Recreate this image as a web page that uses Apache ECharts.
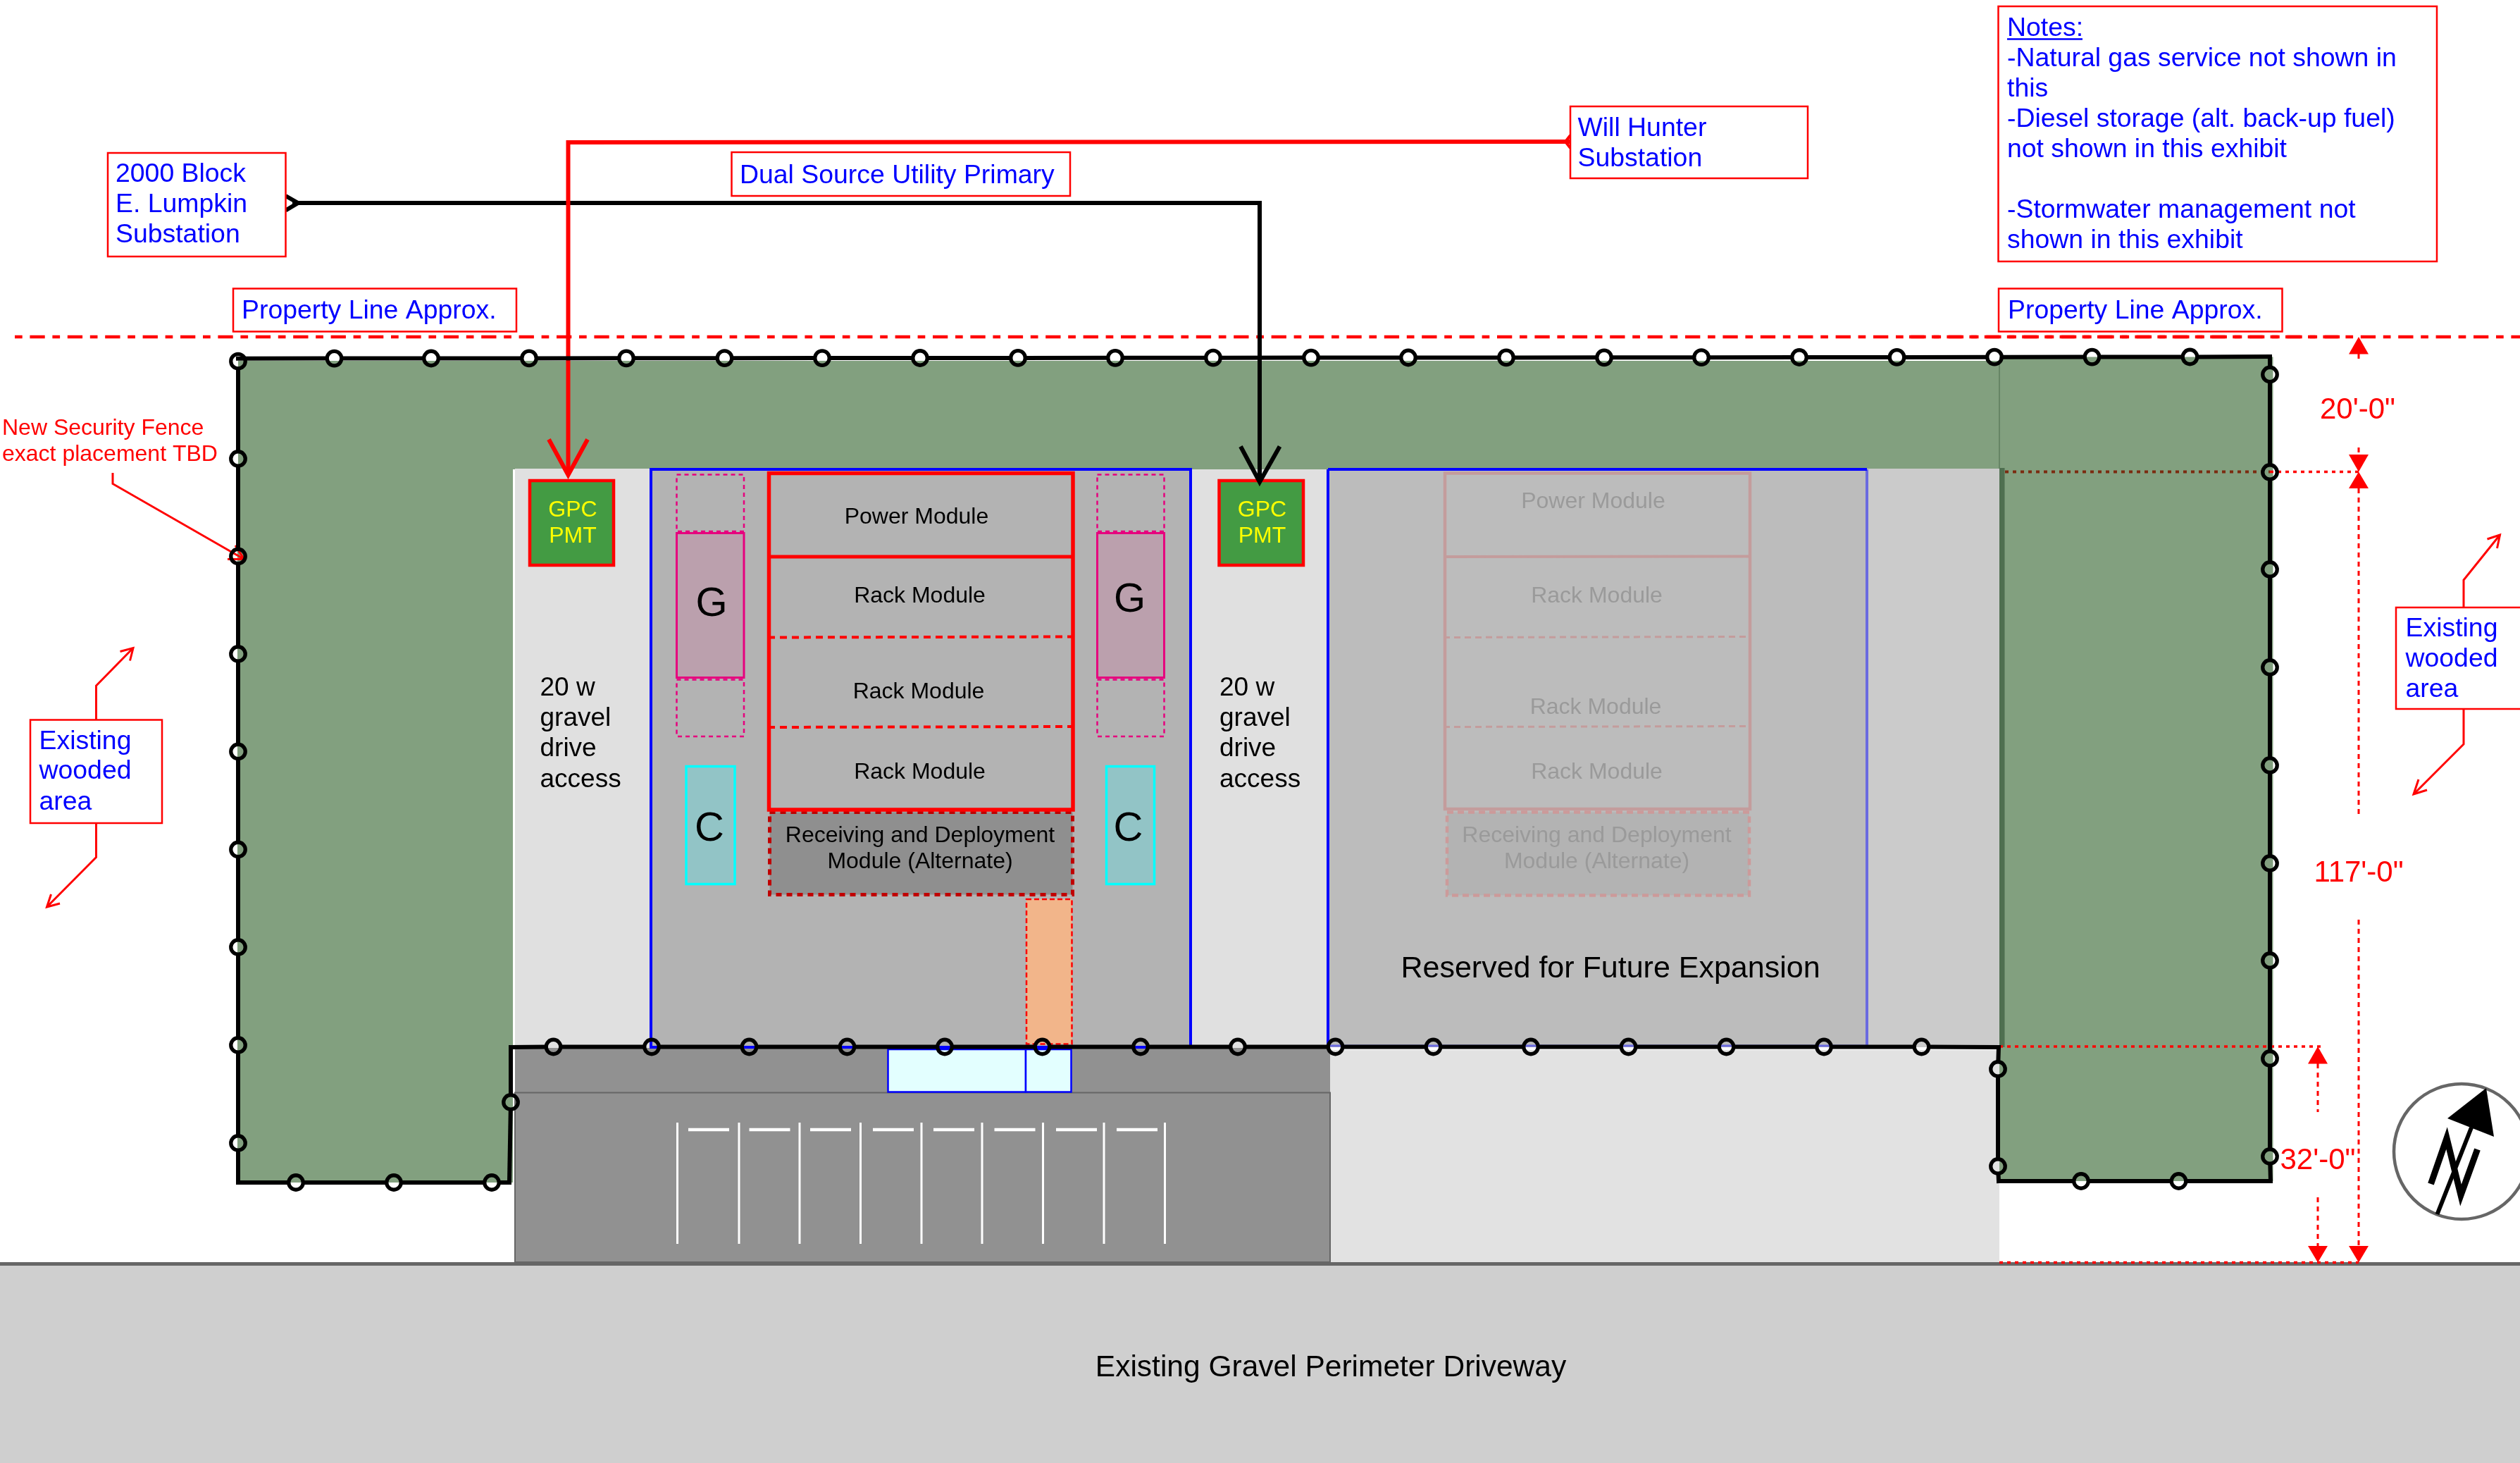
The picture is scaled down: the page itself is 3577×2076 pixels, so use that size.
<!DOCTYPE html>
<html>
<head>
<meta charset="utf-8">
<style>html,body{margin:0;padding:0;background:#fff}#c{width:3577px;height:2076px}</style>
<script src="https://cdn.jsdelivr.net/npm/echarts@6/dist/echarts.min.js"></script>
</head>
<body>
<div id="c"></div>
<script>
// ---- plan extent
const planWidth = 3577, planHeight = 2076;

// ---- areas [x0, y0, x1, y1]
const woodedAreas = [[338,512,2838,666],[337,660,728,1678],[2838,506.5,3226.5,1676]];
const woodedEdge = [[2838,664,2845.5,1486]];
const drivePads = [[731,665,925,1487],[1690,666,1885,1487]];
const moduleYard = [[924,666,1690,1486]];
const futureYard = [[1885,666,2650,1486]];
const sideYard = [[2650,665,2838,1486]];
const pavedApron = [[731,1487,1888,1791]];
const parkingLot = [[731,1550.5,1888,1791]];
const gravelApron = [[1888,1490,2838,1791]];
const perimeterDrive = [[0,1796,3577,2076]];
const perimeterEdge = [[0,1791,3577,1796]];
const meters = [[752,682,871,802],[1730.5,682,1850,802]];
const generators = [[960.5,756.5,1056,961.5],[1557.5,756.5,1652.5,961.5]];
const generatorSlots = [[960.5,673.5,1056,754],[960.5,964.5,1056,1045],[1557.5,673.5,1652.5,754],[1557.5,964.5,1652.5,1045]];
const chillers = [[974,1087.5,1043,1254.5],[1570.5,1087.5,1638.5,1254.5]];
const moduleBlock = [[1091.5,671.5,1523,1149]];
const receivingModule = [[1092.5,1152.5,1522.5,1269.5]];
const entryPath = [[1457,1276,1521.5,1481.5]];
const entryBoxes = [[1260.5,1489,1456,1549.5],[1456,1489,1520.5,1549.5]];
const futureModuleBlock = [[2051,671.5,2484,1148]];
const futureReceiving = [[2054,1152.5,2483,1270.5]];

// ---- callout boxes [x0, y0, x1, y1]
const calloutBoxes = [
  [153,217,405.5,364],[1038.5,216,1519,278],[2229,151,2566,253],
  [331,409.5,733,470.5],[2837,409.5,3239.5,470.5],[2836.5,9,3459,371],
  [43,1021.5,230,1168],[3401,862,3590,1006]
];

// ---- parking
const stallLinesX = [961.5,1049,1135,1221.5,1308,1394,1480.5,1567,1653.5];
const stallLinesY = [1593,1765];
const stallTicks = [[977,1035],[1063.5,1121.5],[1150,1208],[1239,1297],[1325,1383],[1411.5,1469.5],[1499,1557],[1585,1643]];
const stallTickY = 1603;

// ---- module divider lines
const moduleSolidDivider = [[1091.5,790],[1523,790]];
const moduleDashedDividers = [[[1090,904.5],[1523,903.5]],[[1090,1032],[1523,1031]]];
const futureSolidDivider = [[2051,790],[2484,789.5]];
const futureDashedDividers = [[[2049,904.5],[2484,903.5]],[[2049,1031.5],[2484,1030.5]]];

// ---- yard outline lines
const futureYardTop = [[1885,666],[2650,666]];
const futureYardLeft = [[1885,666],[1885,1486]];
const futureYardRight = [[2650,666],[2650,1486]];
const futureYardBottom = [[1885,1484],[2650,1484]];
const woodedSeam = [[2838,511],[2838,665]];

// ---- utility feeders
const feederRed = [[2229,201],[806.5,202],[806.5,670]];
const feederRedHead = [[779,623.5],[806.5,674],[834,623.5]];
const feederRedStub = [[2229,192],[2222,201],[2229,210]];
const feederBlack = [[415,288],[1788,288],[1788,680]];
const feederBlackHead = [[1761,633.5],[1788,684],[1816.5,633.5]];
const feederBlackStub = [[405.5,278],[423,288],[405.5,298.5]];

// ---- property lines
const propertyLineA = [[21,478],[3330,478]];
const propertyLineB = [[2710,478],[3577,478]];

// ---- leaders
const leaders = [
  [[160,671],[160,686.5],[346.5,793.5]],
  [[334,774],[346.5,793.5],[323,793.5]],
  [[136.5,1021.5],[136.5,973],[189,919.5]],
  [[170.5,924.5],[189,919.5],[184.5,937.5]],
  [[136.5,1168],[136.5,1216.5],[66.5,1287]],
  [[85,1282],[66.5,1287],[72.5,1269]],
  [[3497,862],[3497,823],[3548.5,759]],
  [[3530.5,765],[3548.5,759],[3544.5,778]],
  [[3497,1006],[3497,1056],[3426,1127]],
  [[3445,1121],[3426,1127],[3433,1106]]
];

// ---- dimensions
const dimensionDashed = [
  [[3348,502],[3348,514]],[[3348,635],[3348,646]],[[3348,693],[3348,1156]],[[3348,1305],[3348,1770]],
  [[3290,1509],[3290,1578]],[[3290,1699],[3290,1770]]
];
const dimensionGuides = [[[3222,669.5],[3348,669.5]],[[2838,1485],[3296,1485]],[[2838,1791.5],[3348,1791.5]]];
const dimensionGuideOverWoods = [[2846,669.5],[3222,669.5]];
const dimensionHeads = [
  [[3348,478],[3334,502.5],[3362,502.5]],
  [[3348,669.5],[3334,645],[3362,645]],
  [[3348,669.5],[3334,693],[3362,693]],
  [[3348,1791.5],[3334,1768],[3362,1768]],
  [[3290,1485],[3276,1509.5],[3304,1509.5]],
  [[3290,1791.5],[3276,1768],[3304,1768]]
];

// ---- north arrow
const northCircle = [3494,1634,96];
const northHead = [[3529,1544],[3474,1587],[3540,1613]];
const northShaft = [[3508,1600],[3459.5,1723]];
const northLetter = [[3450.5,1680],[3473,1615],[3493,1696],[3516.5,1631]];

// ---- fence
const fenceTopPosts = [
  [474.5,508.6],[612,508.5],[751,508.4],[889,508.3],[1028.5,508.2],[1167,508.1],[1306,508],[1445,507.9],[1583,507.8],
  [1722,507.7],[1861,507.6],[1999,507.5],[2138,507.4],[2277,507.3],[2415,507.2],[2554,507],[2692.5,506.9],[2831,506.7],[2969.5,506.6],[3108.5,506.5]
];
const fenceStartPost = [338,512.7];
const fenceRightPosts = [[3222,531.5],[3222,670],[3222,808],[3222,947],[3222,1086],[3222,1225],[3222,1363],[3222,1502],[3222,1641]];
const fenceBottomRightPosts = [[3092.5,1676],[2954,1676]];
const fenceInnerRightPosts = [[2836,1655],[2836,1517]];
const fenceBottomPosts = [
  [2727.5,1485.5],[2589,1485.5],[2450.5,1485.5],[2311.5,1485.5],[2173,1485.5],[2034.5,1485.5],[1895.5,1485.5],
  [1757,1485.5],[1619,1485.5],[1479.5,1485.5],[1341,1485.5],[1202.5,1485.5],[1063.5,1485.5],[925,1485.5],[785.5,1485.5]
];
const fenceInnerLeftPosts = [[725,1564]];
const fenceBottomLeftPosts = [[698,1678],[559,1678],[420,1678]];
const fenceLeftPosts = [[338,1622],[338,1483],[338,1344],[338,1205.5],[338,1066.5],[338,928],[338,789.5],[338,651]];
const fenceCorners = {topLeft:[338,508.8],topRight:[3222,506],bottomRight:[3223,1676],innerRight:[2837,1676],junction:[2837,1486],innerLeft:[725,1486],lowerLeft:[723,1678],bottomLeft:[338,1678]};

// ---- text
const blueLabels = [
  ['2000 Block',164,245],['E. Lumpkin',164,288],['Substation',164,331.5],
  ['Dual Source Utility Primary',1050,247],
  ['Will Hunter',2239.5,180],['Substation',2239.5,223.5],
  ['Property Line Approx.',343,439],['Property Line Approx.',2850,439],
  ['Notes:',2849,38],['-Natural gas service not shown in',2849,81],['this',2849,124],
  ['-Diesel storage (alt. back-up fuel)',2849,167.5],['not shown in this exhibit',2849,210.5],
  ['-Stormwater management not',2849,296],['shown in this exhibit',2849,339],
  ['Existing',55.5,1050],['wooded',55.5,1092],['area',55.5,1136.5],
  ['Existing',3414.5,890],['wooded',3414.5,933],['area',3414.5,976]
];
const notesUnderline = [[2849,55.5],[2956,55.5]];
const fenceNote = [['New Security Fence',3,605.5],['exact placement TBD',3,642.5]];
const dimensionLabels = [['20\'-0"',3346.5,580],['117\'-0"',3348,1236.5],['32\'-0"',3290,1645]];
const meterLabels = [['GPC',813,722],['PMT',813,758.5],['GPC',1791.5,721.5],['PMT',1791.5,758.5]];
const accessLabels = [
  ['20 w',766.5,974],['gravel',766.5,1017.5],['drive',766.5,1060.5],['access',766.5,1104.5],
  ['20 w',1731,974],['gravel',1731,1017.5],['drive',1731,1060.5],['access',1731,1104.5]
];
const moduleLabels = [
  ['Power Module',1301,732],['Rack Module',1305.5,844],['Rack Module',1304,980],['Rack Module',1305.5,1094],
  ['Receiving and Deployment',1306,1184],['Module (Alternate)',1306,1220.5]
];
const futureLabels = [
  ['Power Module',2261.5,710],['Rack Module',2266.5,844],['Rack Module',2265,1001.5],['Rack Module',2266.5,1094],
  ['Receiving and Deployment',2266.5,1184],['Module (Alternate)',2266.5,1221]
];
const equipmentLabels = [['G',1010,855],['G',1603.5,849],['C',1007,1174],['C',1601.5,1174]];
const siteLabels = [['Reserved for Future Expansion',2286,1373]];
const driveLabels = [['Existing Gravel Perimeter Driveway',1889,1939]];

// ---- build series
const FONT = '"Liberation Sans", Arial, sans-serif';
const textDrop = 2.5;
const series = [];
function addRects(rows, style) {
  series.push({
    type: 'custom', coordinateSystem: 'cartesian2d', silent: true, clip: false,
    z: series.length + 1, data: rows, encode: {x: [0, 2], y: [1, 3]},
    renderItem: (p, api) => {
      const a = api.coord([api.value(0), api.value(1)]);
      const b = api.coord([api.value(2), api.value(3)]);
      return {type: 'rect', shape: {x: a[0], y: a[1], width: b[0] - a[0], height: b[1] - a[1]}, style: style};
    }
  });
}
function addLine(points, color, width, dash) {
  series.push({
    type: 'line', coordinateSystem: 'cartesian2d', silent: true, clip: false, showSymbol: false, symbol: 'none',
    z: series.length + 1, data: points, animation: false,
    lineStyle: {color: color, width: width, type: dash || 'solid', cap: 'butt', join: 'miter', opacity: 1}
  });
}
function addPolygons(polys, fill) {
  const rows = polys.map((_, i) => [polys[i][0][0], polys[i][0][1], i]);
  series.push({
    type: 'custom', coordinateSystem: 'cartesian2d', silent: true, clip: false,
    z: series.length + 1, data: rows,
    renderItem: (p, api) => ({type: 'polygon',
      shape: {points: polys[api.value(2)].map(pt => api.coord(pt))}, style: {fill: fill}})
  });
}
function addText(rows, size, color, align) {
  series.push({
    type: 'custom', coordinateSystem: 'cartesian2d', silent: true, clip: false,
    z: series.length + 1, data: rows.map(r => [r[1], r[2], r[0]]), encode: {x: 0, y: 1},
    dimensions: [{name: 'x', type: 'number'}, {name: 'y', type: 'number'}, {name: 'text', type: 'ordinal'}],
    renderItem: (p, api) => {
      const c = api.coord([api.value(0), api.value(1)]);
      return {type: 'text', style: {
        text: rows[p.dataIndex][0], x: c[0], y: c[1] + textDrop, fill: color,
        fontFamily: FONT, fontSize: size, align: align, verticalAlign: 'middle'
      }};
    }
  });
}

// ground and areas
addRects(perimeterEdge, {fill: '#666666'});
addRects(perimeterDrive, {fill: '#cfcfcf'});
addRects(woodedAreas, {fill: '#82a07f'});
addRects(woodedEdge, {fill: '#4f6f50'});
addLine(woodedSeam, '#5c7c5c', 1.5);
addRects(gravelApron, {fill: '#e2e2e2'});
addRects(pavedApron, {fill: '#919191'});
addRects(parkingLot, {fill: '#919191', stroke: '#666666', lineWidth: 2});
addRects(sideYard, {fill: '#cbcbcb'});
addRects(drivePads, {fill: '#e0e0e0'});
addRects(moduleYard, {fill: '#b3b3b3', stroke: '#0000ff', lineWidth: 4});
addRects(futureYard, {fill: '#bcbcbc'});
addLine(futureYardRight, '#6a6ae0', 4);
addLine(futureYardBottom, '#6a6ae0', 3);
addLine(futureYardTop, '#0000ff', 4);
addLine(futureYardLeft, '#0000ff', 4);

// parking stripes
stallLinesX.forEach(x => addLine([[x, stallLinesY[0]], [x, stallLinesY[1]]], '#ffffff', 3));
stallTicks.forEach(t => addLine([[t[0], stallTickY], [t[1], stallTickY]], '#ffffff', 4.5));

// entry
addRects(entryPath, {fill: '#f2b58a', stroke: '#ff0000', lineWidth: 2.5, lineDash: [7, 4]});
addRects(entryBoxes, {fill: '#e3ffff', stroke: '#0000ff', lineWidth: 2.5});

// equipment
addRects(meters, {fill: '#439b43', stroke: '#ff0000', lineWidth: 4.5});
addRects(generatorSlots, {fill: 'none', stroke: '#e6007e', lineWidth: 2.5, lineDash: [6, 5]});
addRects(generators, {fill: '#bba0ad', stroke: '#e6007e', lineWidth: 3});
addRects(chillers, {fill: '#92c4c6', stroke: '#00ffff', lineWidth: 3.5});
addRects(receivingModule, {fill: '#8f8f8f', stroke: '#c00000', lineWidth: 5, lineDash: [8, 7]});
addRects(moduleBlock, {fill: '#b3b3b3', stroke: '#ff0000', lineWidth: 5.5});
addLine(moduleSolidDivider, '#ff0000', 5);
moduleDashedDividers.forEach(d => addLine(d, '#ff0000', 4, [10, 7]));

// future modules
addRects(futureReceiving, {fill: '#b3b3b3', stroke: '#cc9a9a', lineWidth: 4.5, lineDash: [9, 6]});
addRects(futureModuleBlock, {fill: '#bcbcbc', stroke: '#c49c9c', lineWidth: 4.5});
addLine(futureSolidDivider, '#c49c9c', 4);
futureDashedDividers.forEach(d => addLine(d, '#c49c9c', 3, [9, 6]));

// property line and dimensions
addLine(propertyLineA, '#ff0000', 4.5, [10.7, 10.7, 21.3, 10.7]);
addLine(propertyLineB, '#ff0000', 4.5, [21.3, 10.7, 10.7, 10.7]);
dimensionDashed.forEach(d => addLine(d, '#ff0000', 3, [7, 6]));
dimensionGuides.forEach(d => addLine(d, '#ff0000', 3.5, [5, 6]));
addLine(dimensionGuideOverWoods, '#7b2b10', 4, [5, 6]);
addPolygons(dimensionHeads, '#ff0000');

// feeders
addLine(feederBlack, '#000000', 6);
addLine(feederBlackHead, '#000000', 6);
addLine(feederBlackStub, '#000000', 6);
addLine(feederRed, '#ff0000', 6);
addLine(feederRedHead, '#ff0000', 6);
addLine(feederRedStub, '#ff0000', 4);

// callouts
addRects(calloutBoxes, {fill: '#ffffff', stroke: '#ff0000', lineWidth: 2.5});
leaders.forEach(l => addLine(l, '#ff0000', 3));
addLine(notesUnderline, '#0000ff', 2.5);

// fence
const asPosts = rows => rows.map(p => [p[0], p[1], 1]);
const fencePath = [].concat(
  [[...fenceCorners.topLeft, 0]], asPosts(fenceTopPosts), [[...fenceCorners.topRight, 0]],
  asPosts(fenceRightPosts), [[...fenceCorners.bottomRight, 0]],
  asPosts(fenceBottomRightPosts), [[...fenceCorners.innerRight, 0]],
  asPosts(fenceInnerRightPosts), [[...fenceCorners.junction, 0]],
  asPosts(fenceBottomPosts), [[...fenceCorners.innerLeft, 0]],
  asPosts(fenceInnerLeftPosts), [[...fenceCorners.lowerLeft, 0]],
  asPosts(fenceBottomLeftPosts), [[...fenceCorners.bottomLeft, 0]],
  asPosts(fenceLeftPosts), asPosts([fenceStartPost])
);
const fenceSegments = fencePath.slice(1).map((p, i) => [fencePath[i][0], fencePath[i][1], p[0], p[1], fencePath[i][2], p[2]]);
const postTrim = 9;
series.push({
  type: 'custom', coordinateSystem: 'cartesian2d', silent: true, clip: false,
  z: series.length + 1, data: fenceSegments, encode: {x: [0, 2], y: [1, 3]},
  renderItem: (p, api) => {
    const a = api.coord([api.value(0), api.value(1)]);
    const b = api.coord([api.value(2), api.value(3)]);
    const len = Math.hypot(b[0] - a[0], b[1] - a[1]) || 1;
    const ux = (b[0] - a[0]) / len, uy = (b[1] - a[1]) / len;
    const t0 = api.value(4) ? postTrim : -3, t1 = api.value(5) ? postTrim : -3;
    return {type: 'line',
      shape: {x1: a[0] + ux * t0, y1: a[1] + uy * t0, x2: b[0] - ux * t1, y2: b[1] - uy * t1},
      style: {stroke: '#000000', lineWidth: 6}};
  }
});
series.push({
  type: 'scatter', coordinateSystem: 'cartesian2d', silent: true, clip: false, z: series.length + 1,
  data: [].concat([fenceStartPost], fenceTopPosts, fenceRightPosts, fenceBottomRightPosts, fenceInnerRightPosts, fenceBottomPosts, fenceInnerLeftPosts, fenceBottomLeftPosts, fenceLeftPosts),
  symbol: 'circle', symbolSize: 20.5,
  itemStyle: {color: 'rgba(0,0,0,0)', borderColor: '#000000', borderWidth: 5.3, opacity: 1}
});

// north arrow
series.push({
  type: 'custom', coordinateSystem: 'cartesian2d', silent: true, clip: false, z: series.length + 1,
  data: [northCircle],
  renderItem: (p, api) => {
    const c = api.coord([api.value(0), api.value(1)]);
    const e = api.coord([api.value(0) + api.value(2), api.value(1)]);
    return {type: 'circle', shape: {cx: c[0], cy: c[1], r: e[0] - c[0]}, style: {fill: '#ffffff', stroke: '#666666', lineWidth: 4.5}};
  }
});
addLine(northShaft, '#000000', 6);
addLine(northLetter, '#000000', 9);
addPolygons([northHead], '#000000');

// text
addText(blueLabels, 37.4, '#0000ff', 'left');
addText(fenceNote, 32, '#ff0000', 'left');
addText(dimensionLabels, 42, '#ff0000', 'center');
addText(meterLabels, 32, '#ffff00', 'center');
addText(accessLabels, 37, '#000000', 'left');
addText(moduleLabels, 32, '#000000', 'center');
addText(futureLabels, 32, '#9a9a9a', 'center');
addText(equipmentLabels, 58, '#000000', 'center');
addText(siteLabels, 43, '#000000', 'center');
addText(driveLabels, 42.5, '#000000', 'center');

const chart = echarts.init(document.getElementById('c'), null, {renderer: 'canvas', width: planWidth, height: planHeight});
chart.setOption({
  animation: false,
  backgroundColor: '#ffffff',
  grid: {left: 0, right: 0, top: 0, bottom: 0, containLabel: false},
  xAxis: {type: 'value', min: 0, max: planWidth, show: false},
  yAxis: {type: 'value', min: 0, max: planHeight, inverse: true, show: false},
  tooltip: {show: false},
  legend: {show: false},
  series: series
});
</script>
</body>
</html>
